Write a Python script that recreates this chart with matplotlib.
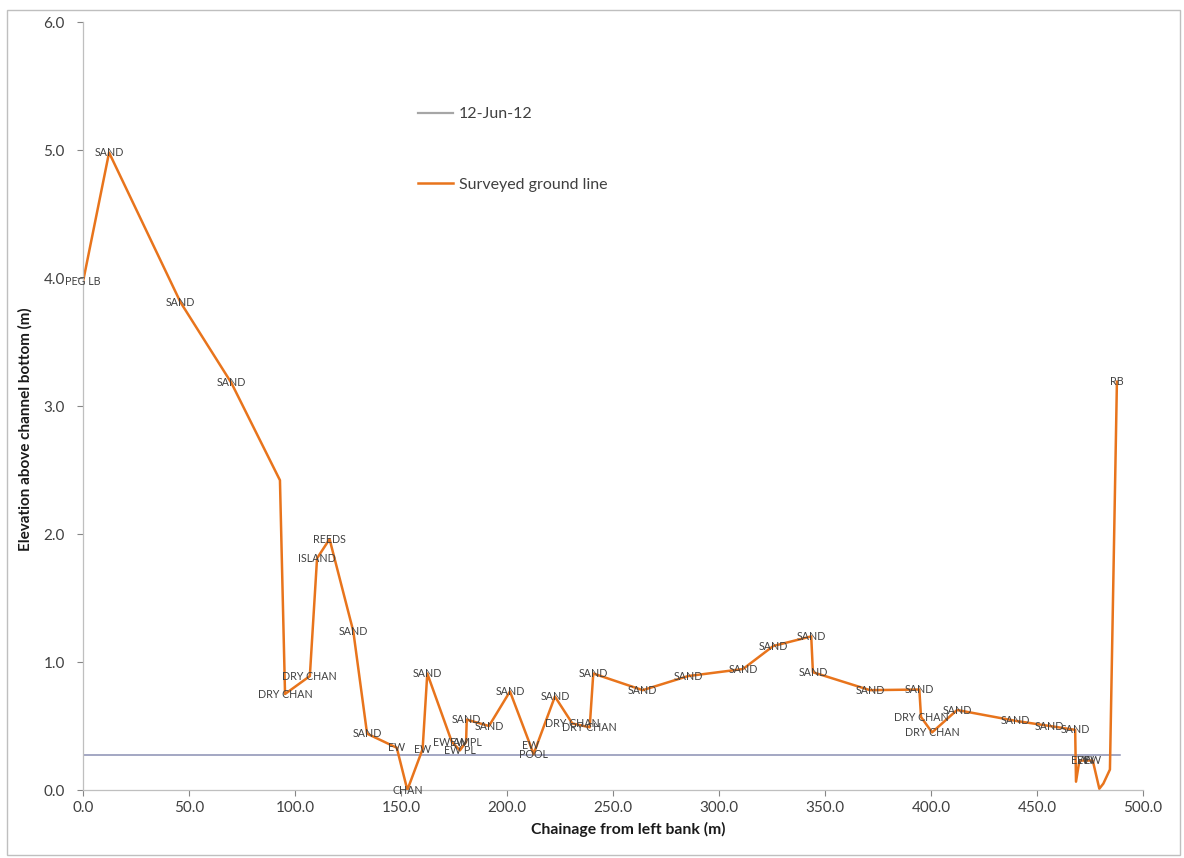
import matplotlib
matplotlib.use("Agg")
import matplotlib.pyplot as plt
from matplotlib.lines import Line2D
from matplotlib.patches import Rectangle

plt.rcParams['font.family'] = ['Lato', 'DejaVu Sans']

# surveyed ground line: chainage (m), elevation (m), point label
chainage = [0, 12.3, 46, 70, 92.9, 95.3, 107, 110.4, 116.3, 127.5,
            134, 148, 153, 160.2, 162.4, 174, 177.8, 180.7, 181, 191.5,
            201.4, 211, 212.5, 222.6, 230.8, 239, 240.7, 264, 285.4, 311.3,
            325.6, 343.5, 344.3, 371.2, 394.5, 395.3, 400.5, 412.3, 440, 456,
            468, 468.4, 470, 473, 476.3, 479.4, 481.3, 484.4, 487.7]
elevation = [3.97, 4.98, 3.81, 3.18, 2.42, 0.75, 0.89, 1.81, 1.96, 1.24,
             0.44, 0.33, 0.0, 0.32, 0.91, 0.375, 0.31, 0.375, 0.55, 0.50,
             0.77, 0.35, 0.28, 0.73, 0.52, 0.49, 0.91, 0.78, 0.89, 0.945,
             1.125, 1.20, 0.92, 0.78, 0.785, 0.57, 0.45, 0.625, 0.54, 0.50,
             0.47, 0.065, 0.23, 0.23, 0.23, 0.01, 0.05, 0.16, 3.19]
point_labels = ['PEG LB', 'SAND', 'SAND', 'SAND', '', 'DRY CHAN', 'DRY CHAN', 'ISLAND', 'REEDS', 'SAND',
                'SAND', 'EW', 'CHAN', 'EW', 'SAND', 'EW AM', 'EW PL', 'EW PL', 'SAND', 'SAND',
                'SAND', 'EW', 'POOL', 'SAND', 'DRY CHAN', 'DRY CHAN', 'SAND', 'SAND', 'SAND', 'SAND',
                'SAND', 'SAND', 'SAND', 'SAND', 'SAND', 'DRY CHAN', 'DRY CHAN', 'SAND', 'SAND', 'SAND',
                'SAND', '', 'EW', 'EW', 'EW', '', '', '', 'RB']

# water level on 12-Jun-12
water_x = [0, 489]
water_y = [0.27, 0.27]

x_ticks = [0, 50, 100, 150, 200, 250, 300, 350, 400, 450, 500]
y_ticks = [0, 1, 2, 3, 4, 5, 6]

W, H = 1184, 858
fig = plt.figure(figsize=(W / 100, H / 100), dpi=100)
ax = fig.add_axes([83 / W, 1 - 790 / H, (1143 - 83) / W, (790 - 22) / H])

water_color = '#8a8fb3'
ground_color = '#E8741C'
text_color = '#404040'

ax.plot(water_x, water_y, color=water_color, lw=1.1, zorder=2)
ax.plot(chainage, elevation, color=ground_color, lw=1.8, zorder=2)

for x, y, lab in zip(chainage, elevation, point_labels):
    if lab:
        ax.text(x, y, lab, ha='center', va='center', fontsize=7.7,
                color=text_color, zorder=3)

ax.set_xlim(0, 500)
ax.set_ylim(0, 6)
ax.set_xticks(x_ticks)
ax.set_xticklabels(['%.1f' % v for v in x_ticks])
ax.set_yticks(y_ticks)
ax.set_yticklabels(['%.1f' % v for v in y_ticks])
ax.tick_params(axis='both', colors='#868686', labelcolor='#404040',
               labelsize=11, length=4, width=0.8)
ax.tick_params(axis='x', pad=4)
ax.tick_params(axis='y', pad=9)

for side in ['top', 'right']:
    ax.spines[side].set_visible(False)
for side in ['left', 'bottom']:
    ax.spines[side].set_color('#bfbfbf')
    ax.spines[side].set_linewidth(0.9)

ax.set_xlabel('Chainage from left bank (m)', fontsize=11.3, fontweight='bold',
              color='#1a1a1a')
ax.xaxis.set_label_coords(0.514, -0.042)
ax.set_ylabel('Elevation above channel bottom (m)', fontsize=11,
              fontweight='bold', color='#1a1a1a')
ax.yaxis.set_label_coords(-0.048, 0.47)

handles = [Line2D([], [], color='#a6a6a6', lw=1.6),
           Line2D([], [], color=ground_color, lw=1.8)]
ax.legend(handles, ['12-Jun-12', 'Surveyed ground line'],
          loc='upper left', bbox_to_anchor=(418 / W, 1 - 107 / H),
          bbox_transform=fig.transFigure, frameon=False, fontsize=11.5,
          handlelength=2.2, handletextpad=0.35, labelspacing=3.55,
          borderpad=0, borderaxespad=0, labelcolor=text_color)

# chart area border
fig.add_artist(Rectangle((7 / W, 3 / H), (1180 - 7) / W, (848 - 3) / H,
                         transform=fig.transFigure, fill=False,
                         edgecolor='#bfbfbf', lw=1.0))

fig.savefig('out.png', dpi=100)
